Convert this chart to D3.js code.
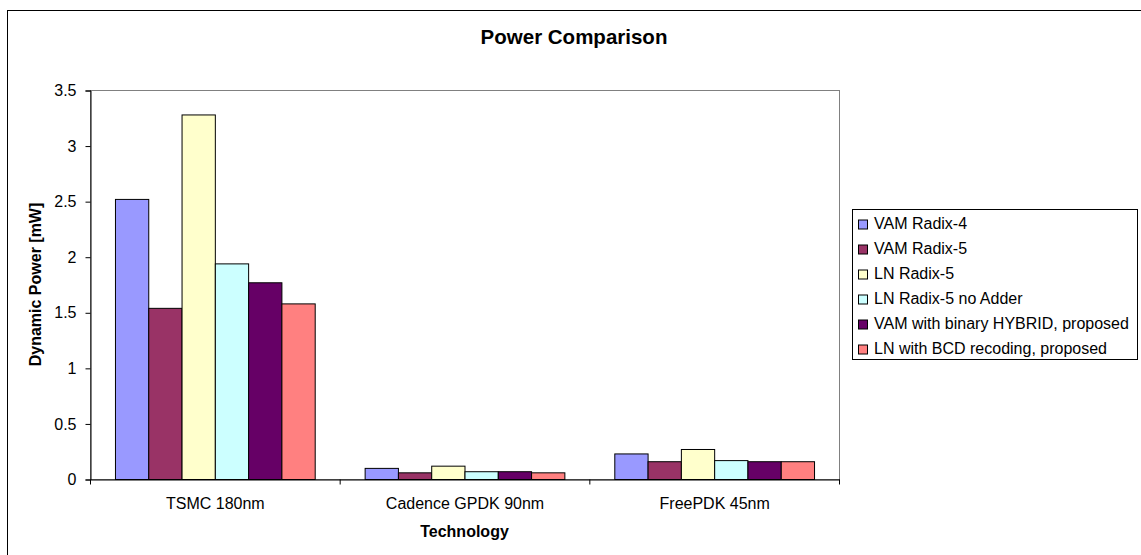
<!DOCTYPE html>
<html>
<head>
<meta charset="utf-8">
<script src="https://cdn.jsdelivr.net/npm/d3@7"></script>
<style>
  html, body { margin: 0; padding: 0; background: #fff; }
  svg { display: block; font-family: "Liberation Sans", Arial, sans-serif; }
</style>
</head>
<body>
<svg id="chart" width="1141" height="555"></svg>
<script>
const categories = ["TSMC 180nm", "Cadence GPDK 90nm", "FreePDK 45nm"];
const seriesNames = [
  "VAM Radix-4",
  "VAM Radix-5",
  "LN Radix-5",
  "LN Radix-5 no Adder",
  "VAM with binary HYBRID, proposed",
  "LN with BCD recoding, proposed"
];
const vamRadix4 = [2.52, 0.10, 0.23];
const vamRadix5 = [1.54, 0.06, 0.16];
const lnRadix5 = [3.28, 0.12, 0.27];
const lnRadix5NoAdder = [1.94, 0.07, 0.17];
const vamHybrid = [1.77, 0.07, 0.16];
const lnBcd = [1.58, 0.06, 0.16];
const seriesColors = ["#9999FF", "#993366", "#FFFFCC", "#CCFFFF", "#660066", "#FF8080"];
const yTicks = [0, 0.5, 1, 1.5, 2, 2.5, 3, 3.5];
const title = "Power Comparison";
const xTitle = "Technology";
const yTitle = "Dynamic Power [mW]";

const seriesValues = [vamRadix4, vamRadix5, lnRadix5, lnRadix5NoAdder, vamHybrid, lnBcd];

const svg = d3.select("#chart");
const plot = { left: 90, right: 839, top: 90, bottom: 479 };

// outer chart border
svg.append("rect")
  .attr("x", 7.5).attr("y", 10.5)
  .attr("width", 1145).attr("height", 560)
  .attr("fill", "#fff").attr("stroke", "#000").attr("stroke-width", 1);

const x0 = d3.scaleBand().domain(categories).range([plot.left, plot.right]).paddingInner(0).paddingOuter(0);
const x1 = d3.scaleBand().domain(seriesNames).range([0, x0.bandwidth()]).paddingInner(0).paddingOuter(0.75);
const y = d3.scaleLinear().domain([0, 3.5]).range([plot.bottom, plot.top]);

// plot area border
svg.append("rect")
  .attr("x", plot.left + 0.5).attr("y", plot.top + 0.5)
  .attr("width", plot.right - plot.left).attr("height", plot.bottom - plot.top)
  .attr("fill", "none").attr("stroke", "#808080").attr("stroke-width", 1);

// bars
const groups = svg.append("g").selectAll("g")
  .data(categories)
  .join("g")
  .attr("transform", d => `translate(${x0(d)},0)`);

groups.selectAll("rect")
  .data((c, ci) => seriesNames.map((s, si) => ({ s, si, v: seriesValues[si][ci] })))
  .join("rect")
  .attr("x", d => x1(d.s) + 0.5)
  .attr("y", d => y(d.v) + 0.5)
  .attr("width", x1.bandwidth())
  .attr("height", d => y(0) - y(d.v))
  .attr("fill", d => seriesColors[d.si])
  .attr("stroke", "#000")
  .attr("stroke-width", 1);

// y axis
const yAxis = svg.append("g")
  .attr("transform", `translate(${plot.left + 0.5},0.5)`)
  .call(d3.axisLeft(y).tickValues(yTicks).tickSize(5).tickPadding(9).tickFormat(d3.format("")));
yAxis.select(".domain").attr("stroke", "#000");
yAxis.selectAll(".tick line").attr("stroke", "#000");
yAxis.selectAll("text")
  .attr("font-size", 16).attr("fill", "#000")
  .attr("font-family", "'Liberation Sans', Arial, sans-serif");

// x axis
const xAxis = svg.append("g")
  .attr("transform", `translate(0.5,${plot.bottom + 0.5})`)
  .call(d3.axisBottom(x0).tickSize(0).tickPadding(18));
xAxis.select(".domain").attr("stroke", "#000");
xAxis.selectAll("text")
  .attr("font-size", 16).attr("fill", "#000")
  .attr("font-family", "'Liberation Sans', Arial, sans-serif");
// category boundary tick marks
const boundaries = categories.map(c => x0(c)).concat([x0(categories[categories.length - 1]) + x0.bandwidth()]);
xAxis.selectAll(".bound")
  .data(boundaries)
  .join("line")
  .attr("class", "bound")
  .attr("x1", d => d).attr("x2", d => d)
  .attr("y1", 0).attr("y2", 5)
  .attr("stroke", "#000");

// title
svg.append("text")
  .attr("x", 574).attr("y", 44)
  .attr("text-anchor", "middle")
  .attr("font-size", 20.5).attr("font-weight", "bold")
  .text(title);

// x title
svg.append("text")
  .attr("x", (plot.left + plot.right) / 2).attr("y", 537)
  .attr("text-anchor", "middle")
  .attr("font-size", 16).attr("font-weight", "bold")
  .text(xTitle);

// y title
svg.append("text")
  .attr("transform", `translate(40.5,${(plot.top + plot.bottom) / 2}) rotate(-90)`)
  .attr("text-anchor", "middle")
  .attr("font-size", 16).attr("font-weight", "bold")
  .text(yTitle);

// legend
const legend = svg.append("g");
legend.append("rect")
  .attr("x", 852.5).attr("y", 209.5)
  .attr("width", 285).attr("height", 150)
  .attr("fill", "#fff").attr("stroke", "#000");
const items = legend.selectAll(".item")
  .data(seriesNames)
  .join("g")
  .attr("class", "item")
  .attr("transform", (d, i) => `translate(0,${228.5 + i * 25})`);
items.append("rect")
  .attr("x", 858.5).attr("y", -8.5)
  .attr("width", 9).attr("height", 9)
  .attr("fill", (d, i) => seriesColors[i])
  .attr("stroke", "#000");
items.append("text")
  .attr("x", 874).attr("y", 0)
  .attr("font-size", 16)
  .text(d => d);
</script>
</body>
</html>
